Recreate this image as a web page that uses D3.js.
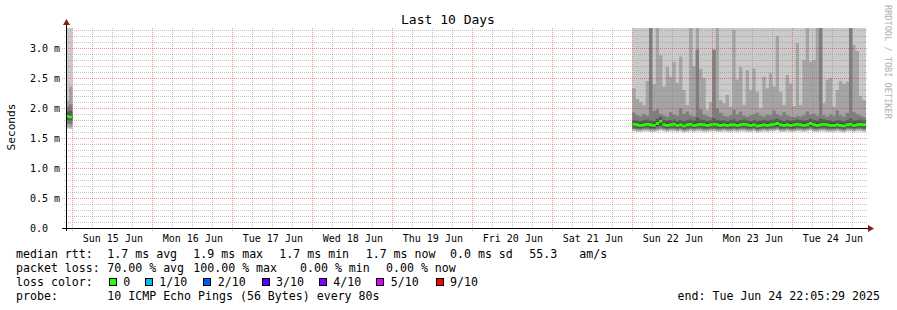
<!DOCTYPE html>
<html><head><meta charset="utf-8">
<script src="https://cdn.jsdelivr.net/npm/d3@7"></script>
<style>
html,body{margin:0;padding:0;background:#fff;}
svg text{font-family:"DejaVu Sans Mono",monospace;white-space:pre;}
</style></head><body>
<svg id="c" width="897" height="310"></svg>
<script>
// ---------- DATA ----------
const title = "Last 10 Days";
const yLabel = "Seconds";
const graphEndStr = "2025-06-24 22:05:29";
const yTickValues = [0, 0.5, 1.0, 1.5, 2.0, 2.5, 3.0];
const yTickLabels = ["0.0", "0.5 m", "1.0 m", "1.5 m", "2.0 m", "2.5 m", "3.0 m"];
const xTickLabels = ["Sun 15 Jun","Mon 16 Jun","Tue 17 Jun","Wed 18 Jun","Thu 19 Jun","Fri 20 Jun","Sat 21 Jun","Sun 22 Jun","Mon 23 Jun","Tue 24 Jun"];

// data segments (hourly bins)
const segStart = ["2025-06-14 22:00:00", "2025-06-22 00:00:00"];
const segEnd   = ["2025-06-15 00:00:00", "2025-06-24 22:05:29"];
const segBins  = [2, 70];

// sorted pings per bin (ms): p1 smallest ... p10 largest
const p1 = [1.66,1.65,
1.61,1.60,1.60,1.61,1.61,1.60,1.60,1.61,1.62,1.61,
1.60,1.61,1.61,1.60,1.61,1.59,1.60,1.61,1.60,1.61,
1.61,1.60,1.60,1.61,1.61,1.60,1.60,1.61,1.60,1.60,
1.61,1.60,1.61,1.61,1.60,1.60,1.61,1.59,1.60,1.61,
1.60,1.61,1.61,1.62,1.60,1.60,1.61,1.60,1.60,1.61,
1.61,1.60,1.61,1.62,1.60,1.60,1.61,1.61,1.60,1.60,
1.60,1.61,1.60,1.59,1.61,1.61,1.60,1.61,1.61,1.60];
const p2 = [1.69,1.68,
1.63,1.62,1.62,1.63,1.63,1.62,1.62,1.63,1.64,1.63,
1.62,1.63,1.63,1.62,1.63,1.61,1.62,1.63,1.62,1.63,
1.63,1.62,1.62,1.63,1.63,1.62,1.62,1.63,1.62,1.62,
1.63,1.62,1.63,1.63,1.62,1.62,1.63,1.61,1.62,1.63,
1.62,1.63,1.63,1.64,1.62,1.62,1.63,1.62,1.62,1.63,
1.63,1.62,1.63,1.64,1.62,1.62,1.63,1.63,1.62,1.62,
1.62,1.63,1.62,1.61,1.63,1.63,1.62,1.63,1.63,1.62];
const p3 = [1.74,1.73,
1.65,1.64,1.64,1.65,1.65,1.64,1.64,1.65,1.66,1.65,
1.64,1.65,1.65,1.64,1.65,1.63,1.64,1.65,1.64,1.65,
1.65,1.64,1.64,1.65,1.65,1.64,1.64,1.65,1.64,1.64,
1.65,1.64,1.65,1.65,1.64,1.64,1.65,1.63,1.64,1.65,
1.64,1.65,1.65,1.66,1.64,1.64,1.65,1.64,1.64,1.65,
1.65,1.64,1.65,1.66,1.64,1.64,1.65,1.65,1.64,1.64,
1.64,1.65,1.64,1.63,1.65,1.65,1.64,1.65,1.65,1.64];
const p4 = [1.80,1.79,
1.67,1.66,1.66,1.67,1.67,1.66,1.66,1.68,1.70,1.67,
1.66,1.67,1.67,1.66,1.67,1.65,1.66,1.67,1.66,1.67,
1.67,1.66,1.66,1.67,1.67,1.66,1.66,1.67,1.66,1.66,
1.67,1.66,1.67,1.67,1.66,1.66,1.67,1.65,1.66,1.67,
1.66,1.67,1.67,1.68,1.66,1.66,1.67,1.66,1.66,1.67,
1.67,1.66,1.67,1.68,1.66,1.66,1.67,1.67,1.66,1.66,
1.66,1.67,1.66,1.65,1.67,1.67,1.66,1.67,1.67,1.66];
const p5 = [1.83,1.82,
1.70,1.69,1.68,1.69,1.70,1.69,1.68,1.71,1.74,1.69,
1.68,1.69,1.70,1.68,1.69,1.67,1.69,1.70,1.68,1.69,
1.70,1.69,1.68,1.69,1.70,1.69,1.68,1.69,1.68,1.69,
1.69,1.68,1.69,1.70,1.69,1.68,1.69,1.67,1.68,1.69,
1.68,1.69,1.70,1.71,1.69,1.68,1.69,1.68,1.69,1.70,
1.69,1.68,1.69,1.71,1.69,1.68,1.69,1.70,1.69,1.68,
1.68,1.69,1.68,1.67,1.69,1.70,1.68,1.69,1.70,1.69];
const p6 = [1.89,1.88,
1.76,1.75,1.74,1.75,1.76,1.75,1.74,1.77,1.81,1.75,
1.74,1.75,1.76,1.74,1.75,1.73,1.75,1.76,1.74,1.76,
1.76,1.75,1.74,1.75,1.76,1.75,1.74,1.75,1.74,1.75,
1.75,1.74,1.75,1.76,1.75,1.74,1.75,1.73,1.74,1.75,
1.74,1.75,1.76,1.77,1.75,1.74,1.75,1.74,1.75,1.76,
1.75,1.74,1.75,1.77,1.75,1.74,1.75,1.76,1.75,1.74,
1.74,1.75,1.74,1.73,1.75,1.76,1.74,1.75,1.76,1.75];
const p7 = [1.94,1.95,
1.80,1.79,1.78,1.80,1.81,1.79,1.78,1.82,1.85,1.80,
1.79,1.80,1.81,1.78,1.80,1.78,1.80,1.81,1.79,1.84,
1.81,1.80,1.78,1.79,1.83,1.80,1.79,1.80,1.78,1.80,
1.81,1.78,1.80,1.81,1.79,1.78,1.80,1.78,1.79,1.80,
1.79,1.80,1.81,1.82,1.80,1.78,1.80,1.79,1.80,1.81,
1.80,1.79,1.80,1.82,1.80,1.79,1.82,1.81,1.80,1.79,
1.78,1.80,1.79,1.78,1.80,1.83,1.79,1.80,1.81,1.79];
const p8 = [2.02,2.06,
1.92,1.88,1.86,1.90,1.87,3.40,1.95,1.98,1.90,1.88,
1.86,1.93,1.89,1.87,1.99,1.90,1.94,1.88,1.86,2.97,
1.98,1.89,1.87,1.85,2.97,1.99,1.92,1.87,1.86,1.88,
1.97,1.89,1.94,1.87,1.86,1.88,1.90,1.92,1.87,1.86,
1.89,1.88,1.96,1.90,1.87,1.93,1.88,1.86,1.85,1.87,
1.86,1.88,1.94,1.89,1.91,1.87,3.40,1.88,1.86,1.89,
1.87,1.96,1.88,1.86,1.92,3.40,1.93,1.90,1.87,1.85];
const p9 = [2.12,2.36,
2.33,2.15,2.10,2.05,2.45,3.40,2.40,3.40,2.88,2.36,
2.68,2.52,2.77,2.42,2.86,2.30,2.05,3.40,2.70,3.40,
2.65,2.50,1.97,2.10,2.97,3.40,2.13,2.08,2.22,2.02,
3.30,2.47,2.68,2.05,2.63,2.30,2.66,2.27,2.00,2.52,
2.33,2.58,2.36,3.20,2.27,2.05,2.55,2.41,2.03,3.08,
2.05,2.80,3.40,2.77,2.80,3.40,3.40,2.08,2.47,2.50,
2.02,2.30,2.45,2.40,2.44,3.40,3.05,2.95,2.20,2.13];
const p10 = [3.5,3.5,
3.5,3.5,3.5,3.5,3.5,3.5,3.5,3.5,3.5,3.5,
3.5,3.5,3.5,3.5,3.5,3.5,3.5,3.5,3.5,3.5,
3.5,3.5,3.5,3.5,3.5,3.5,3.5,3.5,3.5,3.5,
3.5,3.5,3.5,3.5,3.5,3.5,3.5,3.5,3.5,3.5,
3.5,3.5,3.5,3.5,3.5,3.5,3.5,3.5,3.5,3.5,
3.5,3.5,3.5,3.5,3.5,3.5,3.5,3.5,3.5,3.5,
3.5,3.5,3.5,3.5,3.5,3.5,3.5,3.5,3.5,3.5];
const median = [1.86,1.85,
1.73,1.72,1.71,1.72,1.73,1.72,1.71,1.74,1.78,1.72,
1.71,1.72,1.73,1.71,1.72,1.70,1.72,1.73,1.71,1.72,
1.73,1.72,1.71,1.72,1.73,1.72,1.71,1.72,1.71,1.72,
1.72,1.71,1.72,1.73,1.72,1.71,1.72,1.70,1.71,1.72,
1.71,1.72,1.73,1.74,1.72,1.71,1.72,1.71,1.72,1.73,
1.72,1.71,1.72,1.74,1.72,1.71,1.72,1.73,1.72,1.71,
1.71,1.72,1.71,1.70,1.72,1.73,1.71,1.72,1.73,1.72];
const lossPerBin = [0,0,
0,0,0,0,0,0,0,0,0,0, 0,0,0,0,0,0,0,0,0,0, 0,0,0,0,0,0,0,0,0,0,
0,0,0,0,0,0,0,0,0,0, 0,0,0,0,0,0,0,0,0,0, 0,0,0,0,0,0,0,0,0,0,
0,0,0,0,0,0,0,0,0,0];

const smokeColors = ["#cacaca","#a4a4a4","#7e7e7e","#585858","#323232"];
const lossLabels = ["0","1/10","2/10","3/10","4/10","5/10","9/10"];
const lossColors = ["#26ff00","#00b8ff","#0059ff","#5e00ff","#7e00ff","#dd00ff","#ff0000"];

const legendRtt  = ["median rtt:","1.7 ms avg","1.9 ms max","1.7 ms min","1.7 ms now","0.0 ms sd","55.3","am/s"];
const legendLoss = ["packet loss:","70.00 % avg","100.00 % max","0.00 % min","0.00 % now"];
const probeLabel = ["probe:","10 ICMP Echo Pings (56 Bytes) every 80s"];
const endLabel = "end: Tue Jun 24 22:05:29 2025";
const watermark = "RRDTOOL / TOBI OETIKER";

// ---------- LAYOUT ----------
const parse = d3.timeParse("%Y-%m-%d %H:%M:%S");
const graphEnd = parse(graphEndStr);
const graphStart = new Date(graphEnd.getTime() - 10 * 864e5);
const X0 = 66, X1 = 866, Y0 = 228, YTOP = 28;
const x = d3.scaleTime().domain([graphStart, graphEnd]).range([X0, X1]);
const y = d3.scaleLinear().domain([0, 3.35]).range([Y0, Y0 - 201]);

const svg = d3.select("#c");
svg.append("rect").attr("width", 897).attr("height", 310).attr("fill", "#fff");
const defs = svg.append("defs");
defs.append("clipPath").attr("id", "plot")
  .append("rect").attr("x", X0).attr("y", YTOP).attr("width", X1 - X0).attr("height", Y0 - YTOP);

// dotted patterns for the grid
const minorCol = "rgba(128,128,128,0.45)", majorCol = "rgba(255,0,0,0.42)";
[["vMinor", minorCol, 1, 2], ["vMajor", majorCol, 1, 2], ["hMinor", minorCol, 2, 1], ["hMajor", majorCol, 2, 1]]
  .forEach(([id, col, w, h]) => {
    const p = defs.append("pattern").attr("id", id).attr("patternUnits", "userSpaceOnUse")
      .attr("x", 0).attr("y", 0).attr("width", w).attr("height", h);
    p.append("rect").attr("x", 0).attr("y", 0).attr("width", 1).attr("height", 1).attr("fill", col);
  });

// ---------- SMOKE ----------
const P = [p1,p2,p3,p4,p5,p6,p7,p8,p9,p10];
const gData = svg.append("g").attr("clip-path", "url(#plot)");
let offset = 0;
segStart.forEach((s, si) => {
  const t0 = parse(s), tEnd = parse(segEnd[si]), n = segBins[si];
  const pts = [];
  for (let j = 0; j < n; j++) pts.push({t: new Date(t0.getTime() + j * 36e5), i: offset + j});
  pts.push({t: tEnd, i: offset + n - 1});
  for (let k = 0; k < 5; k++) {
    const lo = P[k], hi = P[9 - k];
    const area = d3.area().curve(d3.curveStepAfter)
      .x(d => x(d.t)).y0(d => y(lo[d.i])).y1(d => y(hi[d.i]));
    gData.append("path").attr("d", area(pts)).attr("fill", smokeColors[k]);
  }
  const medArea = d3.area().curve(d3.curveStepAfter)
    .x(d => x(d.t)).y0(d => y(median[d.i]) + 1.5).y1(d => y(median[d.i]) - 1.5);
  gData.append("path").attr("d", medArea(pts)).attr("fill", lossColors[lossPerBin[offset]]);
  offset += n;
});

// ---------- GRID ----------
const gGrid = svg.append("g");
const firstDay = parse("2025-06-15 00:00:00");
for (let k = -1; k < 41; k++) {
  const t = new Date(firstDay.getTime() + k * 6 * 36e5);
  if (t < graphStart || t > graphEnd) continue;
  const major = ((k % 4) + 4) % 4 === 0;
  const xv = Math.floor(x(t));
  gGrid.append("rect").attr("x", xv).attr("y", 27).attr("width", 1)
    .attr("height", major ? 204 : 203)
    .attr("fill", major ? "url(#vMajor)" : "url(#vMinor)");
}
for (let k = 1; k <= 33; k++) {
  const v = k / 10, major = k % 5 === 0;
  const yv = Math.round(y(v));
  const x1 = major ? 62 : 64;
  gGrid.append("rect").attr("x", x1).attr("y", yv).attr("width", 868 - x1).attr("height", 1)
    .attr("fill", major ? "url(#hMajor)" : "url(#hMinor)");
}

// ---------- AXES ----------
svg.append("rect").attr("x", 62).attr("y", Y0).attr("width", 807).attr("height", 1).attr("fill", "#000");
svg.append("rect").attr("x", X0).attr("y", 24).attr("width", 1).attr("height", 207).attr("fill", "#000");
svg.append("path").attr("d", `M868,225 L874,228.5 L868,232 Z`).attr("fill", "#8b1a1a");
svg.append("path").attr("d", `M63,25 L66.5,19 L70,25 Z`).attr("fill", "#8b1a1a");

// y tick labels
svg.append("g").selectAll("text").data(yTickValues).join("text")
  .attr("x", 30).attr("y", d => y(d) + 4)
  .attr("font-size", 10).attr("fill", "#000")
  .text((d, i) => yTickLabels[i]);

// x tick labels at noon
const noons = xTickLabels.map((l, i) => new Date(firstDay.getTime() + (i * 24 + 12) * 36e5));
const xAxis = d3.axisBottom(x).tickValues(noons).tickSize(0).tickPadding(0)
  .tickFormat((d, i) => xTickLabels[i]);
const gx = svg.append("g").attr("transform", `translate(0,${Y0})`).call(xAxis);
gx.select(".domain").remove();
gx.selectAll("text").attr("font-family", "DejaVu Sans Mono").attr("font-size", 10)
  .attr("fill", "#000").attr("dy", null).attr("y", 14);

// ---------- TITLES ----------
svg.append("text").attr("x", 448).attr("y", 24).attr("text-anchor", "middle")
  .attr("font-size", 13).attr("fill", "#000").text(title);
svg.append("text").attr("transform", "translate(15,127) rotate(-90)").attr("text-anchor", "middle")
  .attr("font-size", 11.2).attr("fill", "#000").text(yLabel);
svg.append("text").attr("transform", "translate(885,5) rotate(90)")
  .attr("font-size", 8.6).attr("fill", "#b0b0b0").text(watermark);

// ---------- LEGEND ----------
const fs = 11.6;
const rttX = [16, 107.3, 193.3, 279.3, 365.7, 450, 529.3, 579.3];
legendRtt.forEach((t, i) => svg.append("text").attr("x", rttX[i]).attr("y", 258).attr("font-size", fs).text(t));
const lossX = [16, 107.3, 193.3, 300, 386];
legendLoss.forEach((t, i) => svg.append("text").attr("x", lossX[i]).attr("y", 272).attr("font-size", fs).text(t));
svg.append("text").attr("x", 16).attr("y", 286).attr("font-size", fs).text("loss color:");
const lcX = [123.3, 159.3, 217.7, 276, 333.3, 390.7, 450];
lossLabels.forEach((t, i) => {
  svg.append("rect").attr("x", Math.round(lcX[i] - 14.5) + 0.5).attr("y", 278.5).attr("width", 7).attr("height", 7)
    .attr("fill", lossColors[i]).attr("stroke", "#000");
  svg.append("text").attr("x", lcX[i]).attr("y", 286).attr("font-size", fs).text(t);
});
svg.append("text").attr("x", 16).attr("y", 300).attr("font-size", fs).text(probeLabel[0]);
svg.append("text").attr("x", 107.3).attr("y", 300).attr("font-size", fs).text(probeLabel[1]);
svg.append("text").attr("x", 880).attr("y", 300).attr("text-anchor", "end").attr("font-size", fs).text(endLabel);
</script>
</body></html>
